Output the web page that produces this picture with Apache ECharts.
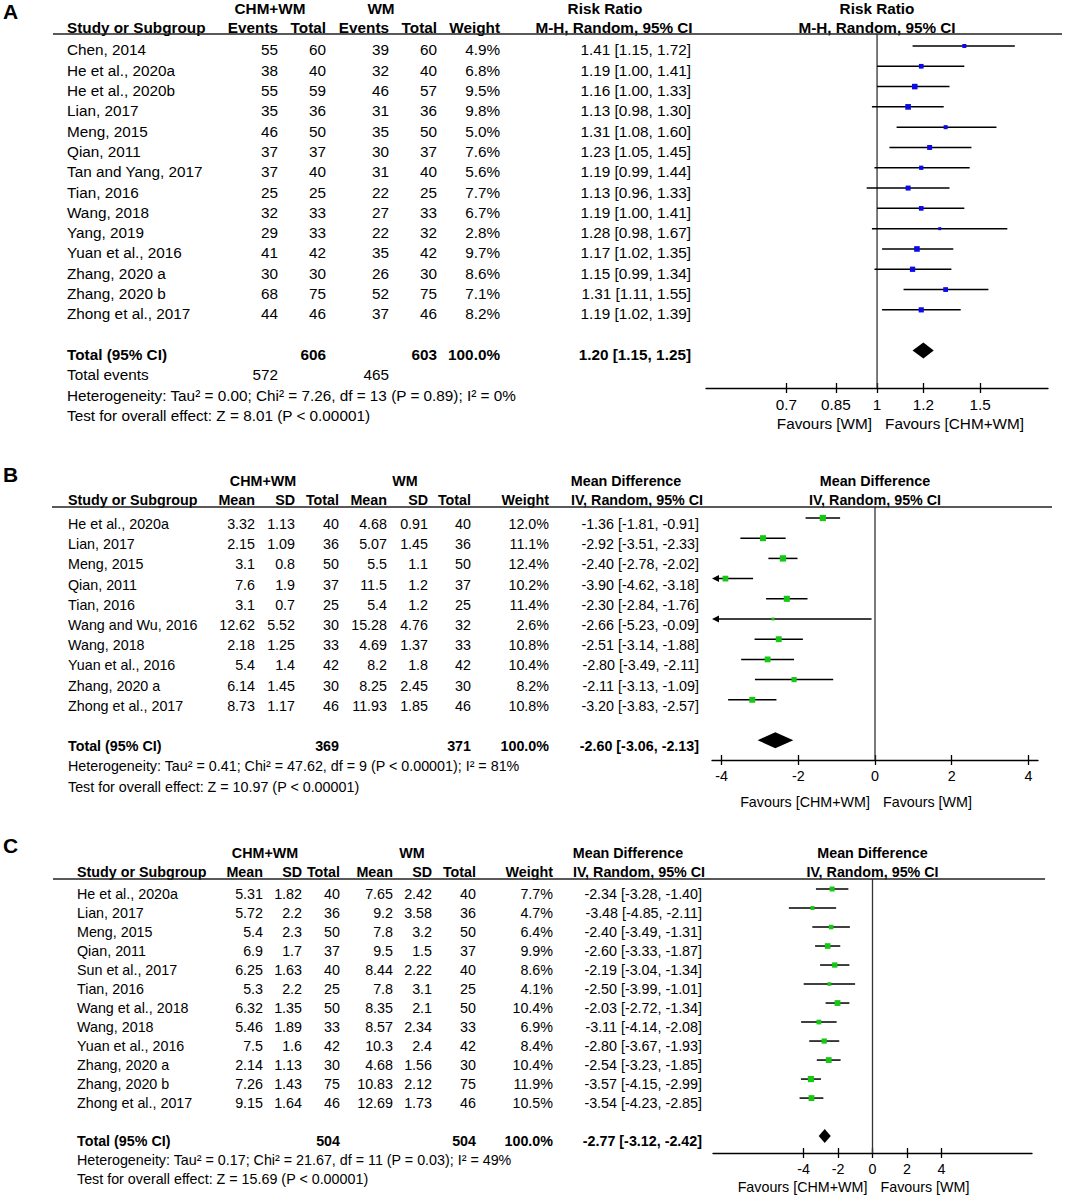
<!DOCTYPE html>
<html><head><meta charset="utf-8">
<script src="https://cdn.jsdelivr.net/npm/echarts@6/dist/echarts.min.js"></script>
<style>html,body{margin:0;padding:0;background:#fff}#c{width:1065px;height:1196px}</style>
</head><body><div id="c"></div>
<script>
// ================= DATA: Panel A (Risk Ratio) =================
const studiesA = ['Chen, 2014','He et al., 2020a','He et al., 2020b','Lian, 2017','Meng, 2015','Qian, 2011','Tan and Yang, 2017','Tian, 2016','Wang, 2018','Yang, 2019','Yuan et al., 2016','Zhang, 2020 a','Zhang, 2020 b','Zhong et al., 2017'];
const eventsChmA = [55,38,55,35,46,37,37,25,32,29,41,30,68,44];
const totalChmA  = [60,40,59,36,50,37,40,25,33,33,42,30,75,46];
const eventsWmA  = [39,32,46,31,35,30,31,22,27,22,35,26,52,37];
const totalWmA   = [60,40,57,36,50,37,40,25,33,32,42,30,75,46];
const weightA    = [4.9,6.8,9.5,9.8,5.0,7.6,5.6,7.7,6.7,2.8,9.7,8.6,7.1,8.2];
const rrA        = [1.41,1.19,1.16,1.13,1.31,1.23,1.19,1.13,1.19,1.28,1.17,1.15,1.31,1.19];
const lowA       = [1.15,1.00,1.00,0.98,1.08,1.05,0.99,0.96,1.00,0.98,1.02,0.99,1.11,1.02];
const highA      = [1.72,1.41,1.33,1.30,1.60,1.45,1.44,1.33,1.41,1.67,1.35,1.34,1.55,1.39];
const pooledA    = [1.20,1.15,1.25];       // estimate, lower, upper
const totalsA    = [606,603];              // CHM+WM total, WM total
const totalEventsA = [572,465];
const hetA    = 'Heterogeneity: Tau\u00b2 = 0.00; Chi\u00b2 = 7.26, df = 13 (P = 0.89); I\u00b2 = 0%';
const effectA = 'Test for overall effect: Z = 8.01 (P < 0.00001)';
const ticksA = [0.7,0.85,1,1.2,1.5];
const tickLabelsA = ['0.7','0.85','1','1.2','1.5'];

// ================= DATA: Panel B (Mean Difference) =================
const studiesB = ['He et al., 2020a','Lian, 2017','Meng, 2015','Qian, 2011','Tian, 2016','Wang and Wu, 2016','Wang, 2018','Yuan et al., 2016','Zhang, 2020 a','Zhong et al., 2017'];
const meanChmB = [3.32,2.15,3.1,7.6,3.1,12.62,2.18,5.4,6.14,8.73];
const sdChmB   = [1.13,1.09,0.8,1.9,0.7,5.52,1.25,1.4,1.45,1.17];
const nChmB    = [40,36,50,37,25,30,33,42,30,46];
const meanWmB  = [4.68,5.07,5.5,11.5,5.4,15.28,4.69,8.2,8.25,11.93];
const sdWmB    = [0.91,1.45,1.1,1.2,1.2,4.76,1.37,1.8,2.45,1.85];
const nWmB     = [40,36,50,37,25,32,33,42,30,46];
const weightB  = [12.0,11.1,12.4,10.2,11.4,2.6,10.8,10.4,8.2,10.8];
const mdB      = [-1.36,-2.92,-2.40,-3.90,-2.30,-2.66,-2.51,-2.80,-2.11,-3.20];
const lowB     = [-1.81,-3.51,-2.78,-4.62,-2.84,-5.23,-3.14,-3.49,-3.13,-3.83];
const highB    = [-0.91,-2.33,-2.02,-3.18,-1.76,-0.09,-1.88,-2.11,-1.09,-2.57];
const pooledB  = [-2.60,-3.06,-2.13];
const totalsB  = [369,371];
const hetB    = 'Heterogeneity: Tau\u00b2 = 0.41; Chi\u00b2 = 47.62, df = 9 (P < 0.00001); I\u00b2 = 81%';
const effectB = 'Test for overall effect: Z = 10.97 (P < 0.00001)';
const ticksB = [-4,-2,0,2,4];
const tickLabelsB = ['-4','-2','0','2','4'];

// ================= DATA: Panel C (Mean Difference) =================
const studiesC = ['He et al., 2020a','Lian, 2017','Meng, 2015','Qian, 2011','Sun et al., 2017','Tian, 2016','Wang et al., 2018','Wang, 2018','Yuan et al., 2016','Zhang, 2020 a','Zhang, 2020 b','Zhong et al., 2017'];
const meanChmC = [5.31,5.72,5.4,6.9,6.25,5.3,6.32,5.46,7.5,2.14,7.26,9.15];
const sdChmC   = [1.82,2.2,2.3,1.7,1.63,2.2,1.35,1.89,1.6,1.13,1.43,1.64];
const nChmC    = [40,36,50,37,40,25,50,33,42,30,75,46];
const meanWmC  = [7.65,9.2,7.8,9.5,8.44,7.8,8.35,8.57,10.3,4.68,10.83,12.69];
const sdWmC    = [2.42,3.58,3.2,1.5,2.22,3.1,2.1,2.34,2.4,1.56,2.12,1.73];
const nWmC     = [40,36,50,37,40,25,50,33,42,30,75,46];
const weightC  = [7.7,4.7,6.4,9.9,8.6,4.1,10.4,6.9,8.4,10.4,11.9,10.5];
const mdC      = [-2.34,-3.48,-2.40,-2.60,-2.19,-2.50,-2.03,-3.11,-2.80,-2.54,-3.57,-3.54];
const lowC     = [-3.28,-4.85,-3.49,-3.33,-3.04,-3.99,-2.72,-4.14,-3.67,-3.23,-4.15,-4.23];
const highC    = [-1.40,-2.11,-1.31,-1.87,-1.34,-1.01,-1.34,-2.08,-1.93,-1.85,-2.99,-2.85];
const pooledC  = [-2.77,-3.12,-2.42];
const totalsC  = [504,504];
const hetC    = 'Heterogeneity: Tau\u00b2 = 0.17; Chi\u00b2 = 21.67, df = 11 (P = 0.03); I\u00b2 = 49%';
const effectC = 'Test for overall effect: Z = 15.69 (P < 0.00001)';
const ticksC = [-4,-2,0,2,4];
const tickLabelsC = ['-4','-2','0','2','4'];

// ================= LAYOUT =================
const FAMILY = '"Liberation Sans", Arial, sans-serif';
const f2 = v => v.toFixed(2);
const ci = (e,l,h) => f2(e) + ' [' + f2(l) + ', ' + f2(h) + ']';
const wt = w => w.toFixed(1) + '%';

const panels = [
  { letter:'A', letterY:11, fs:15.3, grid:{left:706, top:34, width:342, height:354}, yMin:-0.59, yMax:16.85,
    xType:'log', xMin:0.51, xMax:1.96, ref:1, ticks:ticksA, tickLabels:tickLabelsA,
    color:'#0b0be8', textDy:4, nameX:67, cols:[278,326,389,437,500,691],
    lineX:[53,1062], favDy:35,
    head1:[['CHM+WM',270],['WM',381],['Risk Ratio',605]],
    head2:[['Events',278,'right'],['Total',326,'right'],['Events',389,'right'],['Total',437,'right'],['Weight',500,'right'],['M-H, Random, 95% CI',614,'center']],
    plotHead:['Risk Ratio','M-H, Random, 95% CI'],
    favL:'Favours [WM]', favR:'Favours [CHM+WM]',
    studies:studiesA, est:rrA, lo:lowA, hi:highA, w:weightA, pooled:pooledA,
    cells:i => [String(eventsChmA[i]), String(totalChmA[i]), String(eventsWmA[i]), String(totalWmA[i]), wt(weightA[i]), ci(rrA[i],lowA[i],highA[i])],
    totalRow:15, totalCells:['', String(totalsA[0]), '', String(totalsA[1]), '100.0%', ci(pooledA[0],pooledA[1],pooledA[2])],
    extraRows:[[16,'Total events',[String(totalEventsA[0]),'',String(totalEventsA[1]),'','','']],[17,hetA,null],[18,effectA,null]],
    diamondH:8
  },
  { letter:'B', letterY:474, fs:14.3, grid:{left:712, top:507, width:326, height:253}, yMin:-0.545, yMax:11.98,
    xType:'value', xMin:-4.25, xMax:4.25, ref:0, ticks:ticksB, tickLabels:tickLabelsB,
    color:'#14c814', textDy:6, nameX:68, cols:[255,295,339,387,428,471,549,699],
    lineX:[52,1052], favDy:42,
    head1:[['CHM+WM',263],['WM',405],['Mean Difference',626]],
    head2:[['Mean',255,'right'],['SD',295,'right'],['Total',339,'right'],['Mean',387,'right'],['SD',428,'right'],['Total',471,'right'],['Weight',549,'right'],['IV, Random, 95% CI',637,'center']],
    plotHead:['Mean Difference','IV, Random, 95% CI'],
    favL:'Favours [CHM+WM]', favR:'Favours [WM]',
    studies:studiesB, est:mdB, lo:lowB, hi:highB, w:weightB, pooled:pooledB,
    cells:i => [String(meanChmB[i]), String(sdChmB[i]), String(nChmB[i]), String(meanWmB[i]), String(sdWmB[i]), String(nWmB[i]), wt(weightB[i]), ci(mdB[i],lowB[i],highB[i])],
    totalRow:11, totalCells:['','',String(totalsB[0]),'','',String(totalsB[1]),'100.0%',ci(pooledB[0],pooledB[1],pooledB[2])],
    extraRows:[[12,hetB,null],[13,effectB,null]],
    diamondH:8
  },
  { letter:'C', letterY:845, fs:14.3, grid:{left:713, top:879, width:319, height:274}, yMin:-0.526, yMax:13.89,
    xType:'value', xMin:-9.25, xMax:9.25, ref:0, ticks:ticksC, tickLabels:tickLabelsC,
    color:'#14c814', textDy:5, nameX:77, cols:[263,302,340,393,432,476,553,702],
    lineX:[53,1045], favDy:34,
    head1:[['CHM+WM',265],['WM',412],['Mean Difference',628]],
    head2:[['Mean',263,'right'],['SD',302,'right'],['Total',340,'right'],['Mean',393,'right'],['SD',432,'right'],['Total',476,'right'],['Weight',553,'right'],['IV, Random, 95% CI',639,'center']],
    plotHead:['Mean Difference','IV, Random, 95% CI'],
    favL:'Favours [CHM+WM]', favR:'Favours [WM]',
    studies:studiesC, est:mdC, lo:lowC, hi:highC, w:weightC, pooled:pooledC,
    cells:i => [String(meanChmC[i]), String(sdChmC[i]), String(nChmC[i]), String(meanWmC[i]), String(sdWmC[i]), String(nWmC[i]), wt(weightC[i]), ci(mdC[i],lowC[i],highC[i])],
    totalRow:13, totalCells:['','',String(totalsC[0]),'','',String(totalsC[1]),'100.0%',ci(pooledC[0],pooledC[1],pooledC[2])],
    extraRows:[[14,hetC,null],[15,effectC,null]],
    diamondH:7
  }
];

function txt(x, y, s, align, bold, size) {
  return { type:'text', x:x, y:y, silent:true,
    style:{ text:s, fill:'#000', font:(bold?'bold ':'') + size + 'px ' + FAMILY,
            textAlign:align||'right', textVerticalAlign:'middle' } };
}

const grids = [], xAxes = [], yAxes = [], series = [];
panels.forEach((P, g) => {
  const fs = P.fs;
  grids.push(Object.assign({containLabel:false}, P.grid));
  const labelFmt = v => { let best = 0; P.ticks.forEach((t,k)=>{ if (Math.abs(t-v) < Math.abs(P.ticks[best]-v)) best = k; }); return P.tickLabels[best]; };
  const base = { type:P.xType, gridIndex:g, min:P.xMin, max:P.xMax, splitLine:{show:false} };
  if (P.xType === 'log') base.logBase = 10;
  // main axis: line, downward ticks, labels
  xAxes.push(Object.assign({}, base, { position:'bottom',
    axisLine:{show:true, onZero:false, lineStyle:{color:'#000', width:1.3}},
    axisTick:{show:true, inside:false, length:5, customValues:P.ticks, lineStyle:{color:'#000', width:1.3}},
    axisLabel:{show:true, customValues:P.ticks, formatter:labelFmt, margin:9, fontSize:fs, color:'#000', fontFamily:FAMILY}
  }));
  // companion axis moved onto the bottom line: upward half of the crossing ticks
  xAxes.push(Object.assign({}, base, { position:'top', offset:-P.grid.height,
    axisLine:{show:false},
    axisTick:{show:true, inside:false, length:5, customValues:P.ticks, lineStyle:{color:'#000', width:1.3}},
    axisLabel:{show:false}
  }));
  yAxes.push({ type:'value', gridIndex:g, inverse:true, min:P.yMin, max:P.yMax, show:false });
  const xi = 2*g;

  // reference (no-effect) line
  series.push({ type:'custom', xAxisIndex:xi, yAxisIndex:g, silent:true, clip:false, z:2,
    data:[[P.ref, P.yMin]],
    renderItem:(params, api) => {
      const cs = params.coordSys;
      const x = api.coord([api.value(0), api.value(1)])[0];
      return { type:'line', shape:{x1:x, y1:cs.y, x2:x, y2:cs.y+cs.height}, style:{stroke:'#333', lineWidth:1.3} };
    }
  });

  // study CIs and weighted squares
  series.push({ type:'custom', xAxisIndex:xi, yAxisIndex:g, silent:true, clip:false, z:3,
    encode:{x:[0,1,2], y:4},
    data:P.studies.map((s,i) => [P.est[i], P.lo[i], P.hi[i], P.w[i], i]),
    renderItem:(params, api) => {
      const cs = params.coordSys;
      const r = api.value(4);
      const pe = api.coord([api.value(0), r]);
      let x1 = api.coord([api.value(1), r])[0];
      let x2 = api.coord([api.value(2), r])[0];
      const y = pe[1];
      const ch = [];
      let aL = false, aR = false;
      if (x1 < cs.x) { x1 = cs.x; aL = true; }
      if (x2 > cs.x + cs.width) { x2 = cs.x + cs.width; aR = true; }
      ch.push({ type:'line', shape:{x1:aL? x1+3 : x1, y1:y, x2:aR? x2-3 : x2, y2:y}, style:{stroke:'#000', lineWidth:1.5} });
      if (aL) ch.push({ type:'polygon', shape:{points:[[x1,y],[x1+7,y-3.5],[x1+7,y+3.5]]}, style:{fill:'#000'} });
      if (aR) ch.push({ type:'polygon', shape:{points:[[x2,y],[x2-7,y-3.5],[x2-7,y+3.5]]}, style:{fill:'#000'} });
      const s = 1.8 * Math.sqrt(api.value(3));
      ch.push({ type:'rect', shape:{x:pe[0]-s/2, y:y-s/2, width:s, height:s}, style:{fill:P.color} });
      return { type:'group', children:ch };
    }
  });

  // pooled diamond
  series.push({ type:'custom', xAxisIndex:xi, yAxisIndex:g, silent:true, clip:false, z:3,
    encode:{x:[0,1,2], y:3},
    data:[[P.pooled[0], P.pooled[1], P.pooled[2], P.totalRow]],
    renderItem:(params, api) => {
      const r = api.value(3);
      const pe = api.coord([api.value(0), r]);
      const xl = api.coord([api.value(1), r])[0];
      const xh = api.coord([api.value(2), r])[0];
      const h = P.diamondH;
      return { type:'polygon', shape:{points:[[xl,pe[1]],[pe[0],pe[1]-h],[xh,pe[1]],[pe[0],pe[1]+h]]}, style:{fill:'#000'} };
    }
  });

  // table rows (one per study)
  series.push({ type:'custom', xAxisIndex:xi, yAxisIndex:g, silent:true, clip:false, z:4,
    encode:{x:0, y:1},
    data:P.studies.map((s,i) => [P.ref, i]),
    renderItem:(params, api) => {
      const i = params.dataIndex;
      const y = api.coord([api.value(0), api.value(1)])[1] + P.textDy;
      const ch = [txt(P.nameX, y, P.studies[i], 'left', false, fs)];
      P.cells(i).forEach((c,k) => { if (c) ch.push(txt(P.cols[k], y, c, 'right', false, fs)); });
      return { type:'group', children:ch };
    }
  });

  // headers, totals, footers, favours labels
  series.push({ type:'custom', xAxisIndex:xi, yAxisIndex:g, silent:true, clip:false, z:4,
    encode:{x:0, y:1},
    data:[[P.ref, P.totalRow]],
    renderItem:(params, api) => {
      const cs = params.coordSys;
      const rowY = r => api.coord([api.value(0), r])[1] + P.textDy;
      const refX = api.coord([api.value(0), api.value(1)])[0];
      const ch = [];
      const h1 = cs.y - 26, h2 = cs.y - 7;
      ch.push(txt(3, P.letterY, P.letter, 'left', true, 21));
      P.head1.forEach(h => ch.push(txt(h[1], h1, h[0], 'center', true, fs)));
      ch.push(txt(P.nameX, h2, 'Study or Subgroup', 'left', true, fs));
      P.head2.forEach(h => ch.push(txt(h[1], h2, h[0], h[2], true, fs)));
      ch.push(txt(cs.x + cs.width/2, h1, P.plotHead[0], 'center', true, fs));
      ch.push(txt(cs.x + cs.width/2, h2, P.plotHead[1], 'center', true, fs));
      ch.push({ type:'line', shape:{x1:P.lineX[0], y1:cs.y, x2:P.lineX[1], y2:cs.y}, style:{stroke:'#222', lineWidth:1.4} });
      const ty = rowY(P.totalRow);
      ch.push(txt(P.nameX, ty, 'Total (95% CI)', 'left', true, fs));
      P.totalCells.forEach((c,k) => { if (c) ch.push(txt(P.cols[k], ty, c, 'right', true, fs)); });
      P.extraRows.forEach(er => {
        const y = rowY(er[0]);
        ch.push(txt(P.nameX, y, er[1], 'left', false, fs));
        if (er[2]) er[2].forEach((c,k) => { if (c) ch.push(txt(P.cols[k], y, c, 'right', false, fs)); });
      });
      const fy = cs.y + cs.height + P.favDy;
      ch.push(txt(refX - 5, fy, P.favL, 'right', false, fs));
      ch.push(txt(refX + 8, fy, P.favR, 'left', false, fs));
      return { type:'group', children:ch };
    }
  });
});

const chart = echarts.init(document.getElementById('c'), null, {renderer:'svg', width:1065, height:1196});
chart.setOption({
  animation:false,
  backgroundColor:'#fff',
  grid:grids, xAxis:xAxes, yAxis:yAxes, series:series
});
</script></body></html>
